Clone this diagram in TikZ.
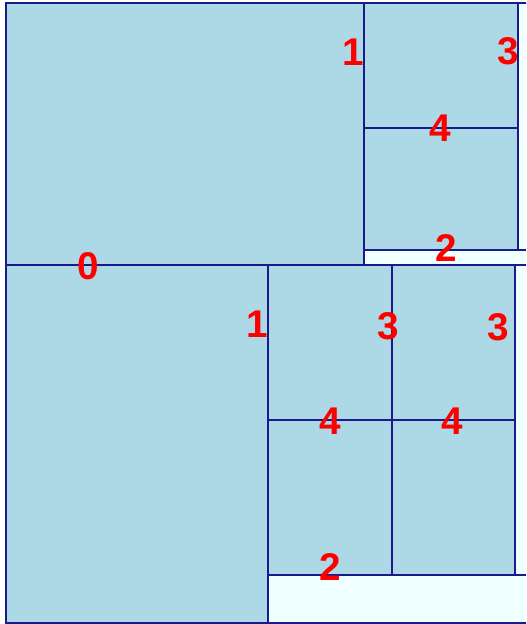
\documentclass[tikz,border=0pt]{standalone}
\usepackage{fontspec}
\setmainfont{Liberation Sans}
\usepackage{xcolor}
\usepackage{tikz}
\usetikzlibrary{positioning}

\definecolor{cellblue}{HTML}{ADD8E6}
\definecolor{emptycell}{HTML}{F0FFFF}
\definecolor{splitline}{HTML}{1A1A8C}

\tikzset{
    split/.style={draw=splitline, line width=1.5pt},
    depth/.style={text=red, font=\fontsize{29}{29}\selectfont\bfseries, inner sep=0pt}
}

\begin{document}
\begin{tikzpicture}[x=0.75pt, y=-0.75pt]
    \useasboundingbox (0,0) rectangle (526,624);
    \clip (0,0) rectangle (526,624);

    % Fond et cellules remplies
    \fill[emptycell] (6,3) rectangle (530,623);
    \fill[cellblue] (6,3) rectangle (518,250);
    \fill[cellblue] (6,250) rectangle (364,265);
    \fill[cellblue] (6,265) rectangle (268,623);
    \fill[cellblue] (268,265) rectangle (515,575);

    % Cadre
    \draw[split, line width=2pt] (6,3) rectangle (530,623);

    % Coupes
    \draw[split] (6,265) -- (526,265);
    \draw[split] (364,3) -- (364,265);
    \draw[split] (364,128) -- (518,128);
    \draw[split] (518,3) -- (518,250);
    \draw[split] (364,250) -- (526,250);
    \draw[split] (268,265) -- (268,623);
    \draw[split] (392,265) -- (392,575);
    \draw[split] (515,265) -- (515,575);
    \draw[split] (268,420) -- (515,420);
    \draw[split] (268,575) -- (526,575);

    % Profondeurs
    \node[depth] (d0)  at (88,266)  {0};
    \node[depth] (d1a) at (353,52)  {1};
    \node[depth] (d3a) at (508,51)  {3};
    \node[depth] (d4a) at (440,128) {4};
    \node[depth] (d2a) at (446,248) {2};
    \node[depth] (d1b) at (257,324) {1};
    \node[depth] (d3b) at (388,326) {3};
    \node[depth] (d3c) at (498,327) {3};
    \node[depth] (d4b) at (330,421) {4};
    \node[depth] (d4c) at (452,421) {4};
    \node[depth] (d2b) at (330,567) {2};
\end{tikzpicture}
\end{document}
